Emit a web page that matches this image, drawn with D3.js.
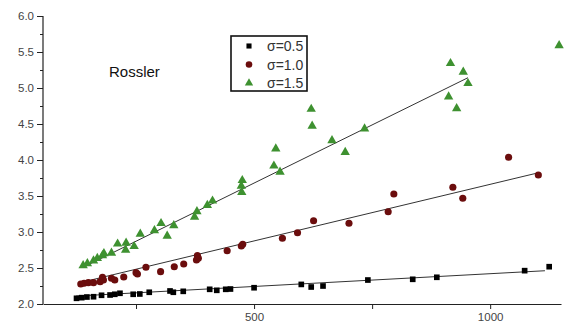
<!DOCTYPE html>
<html><head><meta charset="utf-8">
<script src="https://cdn.jsdelivr.net/npm/d3@7"></script>
<style>body{margin:0;background:#fff;}svg{display:block;font-family:Arial,"Liberation Sans",sans-serif;}</style>
</head><body>
<svg id="c" width="576" height="332"></svg>
<script>
// ---- data ----
const seriesNames = ["σ=0.5", "σ=1.0", "σ=1.5"];
const s05x = [124,135,146,160,177,195,205,216,244,258,278,322,329,350,406,421,440,450,500,600,621,646,741,836,887,1073,1125];
const s05y = [2.079,2.088,2.097,2.101,2.121,2.125,2.135,2.149,2.135,2.139,2.163,2.181,2.163,2.176,2.204,2.190,2.204,2.208,2.226,2.272,2.236,2.250,2.333,2.343,2.371,2.463,2.518];
const s10x = [133,140,149,160,174,179,181,198,205,224,250,253,271,302,331,351,378,380,382,443,473,476,560,592,626,701,784,796,921,942,1039,1102];
const s10y = [2.278,2.288,2.296,2.296,2.310,2.371,2.333,2.357,2.333,2.375,2.435,2.417,2.510,2.449,2.518,2.556,2.611,2.671,2.635,2.740,2.806,2.829,2.913,2.990,3.157,3.121,3.282,3.528,3.621,3.468,4.038,3.792];
const s15x = [138,147,160,168,179,182,198,211,229,228,246,259,289,303,316,330,374,379,401,412,474,473,475,542,546,555,621,623,665,693,734,912,929,916,943,953,1146];
const s15y = [2.535,2.563,2.601,2.635,2.674,2.701,2.708,2.836,2.847,2.750,2.801,2.972,3.021,3.121,2.944,3.090,3.208,3.285,3.372,3.433,3.551,3.639,3.718,3.919,4.157,3.833,4.706,4.472,4.271,4.108,4.435,4.879,4.715,5.343,5.222,5.065,5.590];
// linear fit end points [x0, y0, x1, y1]
const fit05 = [123, 2.110, 1116, 2.462];
const fit10 = [131, 2.296, 1103, 3.824];
const fit15 = [138, 2.510, 953, 5.143];
const xTicks = [250, 500, 750, 1000];
const xTickLabels = ["", "500", "", "1000"];
const yTicks = [2.0, 2.5, 3.0, 3.5, 4.0, 4.5, 5.0, 5.5, 6.0];
const yMinorTicks = [2.25, 2.75, 3.25, 3.75, 4.25, 4.75, 5.25, 5.75];
const colors = ["#000000", "#6b0d0d", "#3e9130"];

// ---- chart ----
const svg = d3.select("#c");
const x = d3.scaleLinear().domain([53, 1150]).range([43, 561]);
const y = d3.scaleLinear().domain([2, 6]).range([304, 16]);

// y axis
const yAx = svg.append("g").attr("transform", "translate(43,0)")
  .call(d3.axisLeft(y).tickValues(yTicks).tickFormat(d3.format(".1f")).tickSize(6).tickPadding(3));
svg.append("g").attr("transform", "translate(43,0)")
  .call(d3.axisLeft(y).tickValues(yMinorTicks).tickFormat("").tickSize(3))
  .select(".domain").remove();
// x axis
const xAx = svg.append("g").attr("transform", "translate(0,304)")
  .call(d3.axisBottom(x).tickValues(xTicks).tickFormat((d, i) => xTickLabels[i]).tickSize(5).tickPadding(4).tickSizeOuter(0));
svg.selectAll(".domain").attr("stroke", "#222").attr("stroke-width", 1.2);
svg.selectAll(".tick line").attr("stroke", "#222");
svg.selectAll(".tick text").attr("fill", "#444").attr("font-size", 11.5).attr("font-family", "Arial, 'Liberation Sans', sans-serif");
yAx.select(".domain").attr("d", "M0," + y(6) + "V" + y(2));

// fit lines
[fit05, fit10, fit15].forEach(f => {
  svg.append("line").attr("x1", x(f[0])).attr("y1", y(f[1])).attr("x2", x(f[2])).attr("y2", y(f[3]))
    .attr("stroke", "#333").attr("stroke-width", 1);
});

// markers
const sq = d3.symbol().type(d3.symbolSquare).size(32);
const ci = d3.symbol().type(d3.symbolCircle).size(40);
const tr = d3.symbol().type(d3.symbolTriangle).size(38);
function plot(xs, ys, sym, col) {
  svg.append("g").selectAll("path").data(xs).join("path")
    .attr("d", sym)
    .attr("transform", (d, i) => `translate(${x(d)},${y(ys[i])})`)
    .attr("fill", col);
}
plot(s05x, s05y, sq, colors[0]);
plot(s10x, s10y, ci, colors[1]);
plot(s15x, s15y, tr, colors[2]);

// annotation
svg.append("text").attr("x", 109).attr("y", 77).attr("font-size", 15).attr("fill", "#111").text("Rossler");

// legend
const lg = svg.append("g");
lg.append("rect").attr("x", 231).attr("y", 36).attr("width", 76).attr("height", 55)
  .attr("fill", "none").attr("stroke", "#111").attr("stroke-width", 1.6);
seriesNames.forEach((n, i) => {
  const cy = 46 + i * 18.5;
  lg.append("path").attr("d", d3.symbol().type([d3.symbolSquare, d3.symbolCircle, d3.symbolTriangle][i]).size([26, 34, 30][i]))
    .attr("transform", `translate(249,${cy})`).attr("fill", colors[i]);
  lg.append("text").attr("x", 267).attr("y", cy + 5).attr("font-size", 14).attr("fill", "#333").text(n);
});
</script>
</body></html>
